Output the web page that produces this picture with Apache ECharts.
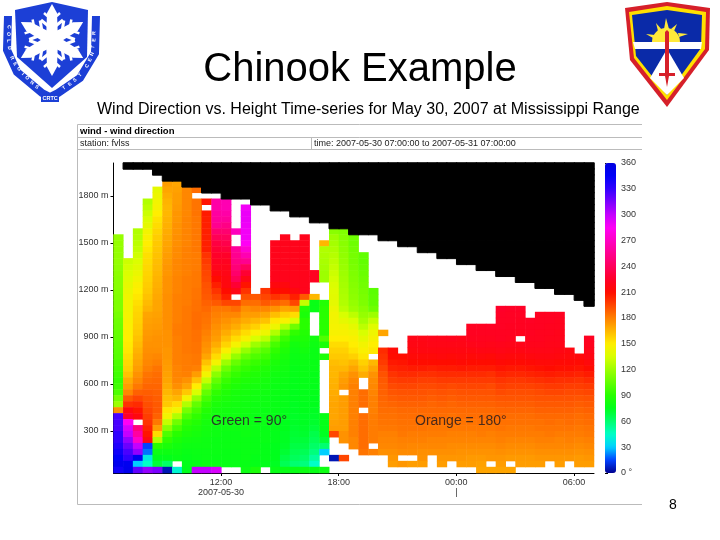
<!DOCTYPE html>
<html>
<head>
<meta charset="utf-8">
<title>Chinook Example</title>
<script src="https://cdn.jsdelivr.net/npm/echarts@6/dist/echarts.min.js"></script>
<style>
  html, body { margin: 0; padding: 0; background: #fff; }
  #chart { width: 720px; height: 540px; }
</style>
</head>
<body>
<div id="chart"></div>
<script>
const _ = null; // white, no data

const heightTicks = [300, 600, 900, 1200, 1500, 1800];
const hourTicks = [12, 18, 24, 30];
const hourLabels = ['12:00\n2007-05-30', '18:00', '00:00\n|', '06:00'];

// rows of the black area at the top of each column (above the range limit)
const blackRows = [0, 1, 1, 1, 2, 3, 3, 4, 4, 5, 5, 6, 6, 6, 7, 7, 8, 8, 9, 9, 10, 10, 11, 11, 12,
  12, 12, 13, 13, 14, 14, 15, 15, 16, 16, 17, 17, 18, 18, 19, 19, 20, 20, 21, 21, 22, 22, 23, 24];

// first row (0 = top) that each column of directions starts at
const firstRows = [12, 16, 11, 6, 4, 3, 3, 4, 4, 6, 6, 6, 11, 7, 22, 21, 13, 12, 13, 12, 18, 13, 11, 11, 12,
  15, 21, 28, 31, 32, 29, 29, 29, 29, 29, 29, 27, 27, 27, 24, 24, 24, 26, 25, 25, 25, 31, 32, 29];

// wind direction in degrees read per half-hour column, top to bottom
const directions = [
  [118,118,118,118,118,117,116,115,115,114,113,112,112,110,108,107,106,105,104,103,102,100,98,96,94,96,100,110,120,175,325,325,325,330,330,335,340,345,350,340],
  [132,134,136,138,140,142,144,145,145,146,147,148,149,150,151,152,154,156,158,162,168,172,178,190,200,215,225,285,295,300,310,318,325,330,350,352],
  [125,126,128,130,133,136,139,142,145,148,150,152,154,156,157,158,159,160,162,164,166,168,170,172,175,178,182,188,195,202,208,215,_,250,260,272,300,310,350,30,320],
  [125,128,132,136,140,145,148,150,152,154,155,156,157,158,159,160,162,164,166,170,171,172,173,174,175,176,177,178,180,183,185,187,189,191,193,195,197,200,204,208,216,15,20,38,45,310],
  [140,143,145,147,150,153,155,157,159,160,161,162,163,164,165,166,167,168,169,170,170,171,172,173,174,175,175,176,178,180,183,185,186,187,188,189,190,190,188,182,172,155,125,90,80,75,70,315],
  [172,170,168,166,165,165,166,167,168,169,170,171,172,173,174,174,175,175,175,176,176,176,176,176,176,175,175,175,174,174,173,172,171,170,168,165,162,160,152,145,130,115,100,92,85,80,76,62,5],
  [170,171,172,172,173,174,174,175,175,176,176,177,177,178,178,178,179,179,179,180,180,180,180,180,181,181,180,180,180,180,180,179,179,178,176,170,165,155,145,125,108,98,90,85,82,80,78,_,42],
  [178,178,178,178,178,179,179,179,179,179,180,180,180,180,180,181,181,181,181,181,182,182,182,182,182,182,182,182,181,181,181,180,175,170,160,145,125,110,100,92,88,85,82,80,78,77,76,75],
  [185,_,183,183,183,182,182,182,182,182,182,181,181,181,182,182,182,183,183,184,184,185,185,185,184,184,183,183,182,182,180,172,162,150,135,118,105,98,92,88,85,83,81,80,79,78,77,300],
  [208,_,206,205,205,205,205,205,205,200,198,196,195,194,192,191,190,188,186,184,183,182,180,178,176,174,170,162,155,145,130,115,105,98,92,88,85,83,82,81,80,80,79,79,79,300],
  [262,262,260,258,255,245,238,232,228,225,222,220,215,210,205,200,195,190,182,180,178,176,174,172,168,162,155,145,128,115,105,98,92,88,85,83,82,81,80,80,79,79,79,78,78,295],
  [265,265,262,258,252,246,240,235,230,225,222,220,218,216,215,210,205,195,182,178,175,172,168,163,157,148,135,120,108,100,94,90,87,85,83,82,81,80,80,79,79,79,78,78,78,_],
  [268,_,_,258,255,252,248,244,238,228,218,_,195,185,178,172,168,162,155,146,132,118,106,98,93,89,86,84,83,82,81,81,80,80,79,79,79,78,78,78,_],
  [288,290,290,289,288,288,285,275,265,255,240,228,218,208,200,192,185,176,172,168,162,155,147,133,118,106,98,93,89,86,84,83,82,81,81,80,80,80,80,79,79,79,79,78,80],
  [190,185,178,172,165,158,148,135,120,108,100,94,90,87,85,83,82,81,80,80,79,79,79,79,78,78,78,77,77,85],
  [200,195,190,178,170,162,152,143,128,112,102,96,91,87,85,83,82,81,80,80,79,79,79,78,78,78,77,77,77,76,_],
  [220,220,220,220,220,220,220,215,210,200,188,175,163,152,143,125,108,98,92,88,85,83,81,80,79,79,78,78,78,77,77,77,76,76,75,75,75,74,78],
  [220,220,220,220,220,220,220,220,215,210,197,185,170,158,147,125,105,95,90,86,84,82,81,80,79,78,78,77,77,76,76,75,75,74,74,73,71,68,65,78],
  [220,220,220,220,220,220,220,220,215,205,195,172,155,135,108,92,86,82,80,79,78,77,77,76,76,75,75,74,74,73,73,72,71,70,68,66,64,60,78],
  [220,220,220,220,220,220,220,220,220,220,190,130,88,85,90,90,88,86,84,82,80,79,78,78,77,77,76,76,75,75,74,74,73,72,70,68,65,62,58,80],
  [222,222,_,_,165,78,78,_,_,_,_,82,80,79,79,78,78,77,77,76,76,75,75,74,73,72,70,67,65,62,58,52,45,78],
  [165,125,124,123,122,120,120,_,_,_,88,90,90,90,90,90,100,85,_,85,_,_,_,_,_,_,_,_,_,78,77,76,74,70,60,30,_,_,80],
  [115,120,122,124,126,128,130,132,134,136,138,139,140,143,145,145,146,147,150,155,158,160,163,165,165,166,167,168,169,170,170,170,171,172,195,_,_,_,5,_,_],
  [113,114,115,116,117,118,119,120,121,122,123,124,125,128,135,140,145,147,150,155,158,160,162,165,170,172,174,_,172,172,172,172,172,172,175,175,_,_,195,_,_],
  [108,108,109,110,110,111,112,113,114,115,116,118,120,128,135,140,145,148,150,153,158,165,170,175,178,180,180,180,180,180,180,180,180,180,178,178,_,_,_,_],
  [105,105,106,107,108,109,110,111,112,115,118,122,128,135,140,145,148,152,158,162,168,_,_,185,185,185,_,185,185,185,185,185,185,183,_,_,_],
  [103,104,105,108,120,130,138,144,147,150,152,_,165,170,175,177,178,179,180,180,180,181,181,181,181,181,_,180,_,_,_],
  [170,_,_,202,200,198,195,192,190,189,188,187,186,185,184,183,182,180,179,178,176,_,_,_],
  [212,210,207,204,200,197,194,191,189,187,185,184,183,182,180,179,178,176,174,172,_],
  [210,208,205,202,198,195,192,190,188,186,185,184,183,182,180,179,177,_,174,_],
  [218,217,215,213,210,206,202,198,195,192,190,188,186,185,184,183,181,180,178,177,_,172,_],
  [218,217,216,213,210,206,201,197,194,192,190,188,186,185,184,183,181,180,178,176,175,172,_],
  [219,218,216,213,210,205,201,197,194,191,189,187,186,185,184,182,181,179,178,176,_,_,_],
  [219,218,216,214,210,206,202,198,195,192,190,188,186,185,183,182,181,179,178,176,174,172,_],
  [220,218,216,213,210,206,202,198,194,191,189,187,186,184,183,182,180,179,177,176,174,_,_],
  [219,218,216,214,211,207,202,198,195,192,190,188,186,185,183,182,180,179,177,175,174,172,_],
  [222,222,221,219,216,213,210,206,202,198,195,192,190,188,186,185,183,182,180,179,177,175,173,172,_],
  [222,222,221,220,217,214,210,206,202,198,195,192,190,188,186,185,184,182,181,179,177,175,173,171,170],
  [223,222,221,219,217,213,210,206,201,198,194,192,190,188,186,185,183,182,180,179,177,175,174,_,170],
  [225,224,223,223,222,222,220,218,215,212,208,204,200,197,194,191,189,187,186,184,183,181,180,178,176,174,172,170],
  [224,223,223,222,222,221,219,217,214,211,207,203,199,196,193,191,189,187,185,184,182,181,179,177,175,173,_,170],
  [224,223,222,222,221,_,219,217,214,211,207,203,199,196,193,191,189,187,185,184,182,181,179,177,175,173,172,_],
  [223,222,222,221,220,218,215,212,208,204,200,196,193,191,189,187,185,184,182,181,179,177,175,173,172,_],
  [222,222,222,221,221,220,218,216,213,209,205,201,197,194,192,190,188,186,184,183,181,180,178,176,174,172,_],
  [222,222,221,221,220,219,218,216,213,210,206,202,198,195,192,190,188,186,185,183,182,180,178,176,174,_,_],
  [222,221,221,220,220,219,217,215,212,209,205,201,198,195,192,190,188,186,184,183,181,179,178,176,174,172,_],
  [216,214,212,209,205,201,197,194,192,190,188,186,185,183,181,180,178,176,174,_,_],
  [214,211,208,204,200,197,194,191,189,187,185,184,182,181,179,177,175,173,172,_],
  [222,221,219,217,214,210,206,202,198,195,192,190,188,186,185,183,182,180,178,176,174,172,_]
];

const ROWS = 52;
const labelColor = '#333';
const sans = '"Liberation Sans", Arial, sans-serif';

// colour bar, every 15 degrees from 0 to 360
const barColors = ['#000090', '#0042ff', '#00cfff', '#00ffc7', '#00ff70', '#00ff1c', '#27ff00', '#62ff00', '#9dff00',
  '#d8ff00', '#ffee00', '#ffb700', '#ff8000', '#ff4600', '#ff0c00', '#ff0029', '#ff005c', '#ff008f', '#ff00c3',
  '#ff00f5', '#c400ff', '#7a00ff', '#3000ff', '#0000f8', '#0000e0'];

const cellData = [];
directions.forEach((col, x) => {
  col.forEach((v, i) => {
    if (v !== _) cellData.push([x, firstRows[x] + i, v]);
  });
});

const blackData = [];
blackRows.forEach((n, x) => {
  for (let y = 0; y < n; y++) blackData.push([x, y, 1]);
});

const colNames = directions.map((c, i) => String(i));
const rowNames = [];
for (let i = 0; i < ROWS; i++) rowNames.push(String(i));

// --- slide decoration ---
function text(x, y, str, style) {
  return { type: 'text', z: 100, x: x, y: y, style: Object.assign({ text: str, fill: '#000', font: '9px ' + sans }, style) };
}
function poly(points, fill, z) {
  return { type: 'polygon', z: z || 100, shape: { points: points }, style: { fill: fill } };
}
function line(x1, y1, x2, y2, color, width) {
  return { type: 'line', z: 100, shape: { x1: x1, y1: y1, x2: x2, y2: y2 }, style: { stroke: color, lineWidth: width || 1 } };
}

const panel = [
  line(77.5, 124.5, 642, 124.5, '#bbb'),
  line(77.5, 137.5, 642, 137.5, '#bbb'),
  line(77.5, 149.5, 642, 149.5, '#bbb'),
  line(77.5, 504.5, 642, 504.5, '#bbb'),
  line(77.5, 124.5, 77.5, 504.5, '#bbb'),
  line(311.5, 137.5, 311.5, 149.5, '#bbb'),
  text(80, 126.5, 'wind - wind direction', { font: 'bold 9.5px ' + sans }),
  text(80, 139, 'station: fvlss', { font: '9px ' + sans, fill: '#222' }),
  text(314, 139, 'time: 2007-05-30 07:00:00 to 2007-05-31 07:00:00', { font: '9px ' + sans, fill: '#222' })
];

// cold regions shield, left
const snowBlue = '#1c3fd6';
const snowArms = [];
for (let k = 0; k < 6; k++) {
  const a = k * Math.PI / 3;
  snowArms.push({
    type: 'group', z: 101, x: 52, y: 40, rotation: a,
    children: [
      { type: 'polygon', z: 101, shape: { points: [[-6, 0], [-5, -27], [0, -36], [5, -27], [6, 0]] }, style: { fill: '#fff' } },
      { type: 'line', z: 101, shape: { x1: 0, y1: -11, x2: -11, y2: -20 }, style: { stroke: '#fff', lineWidth: 3 } },
      { type: 'line', z: 101, shape: { x1: 0, y1: -11, x2: 11, y2: -20 }, style: { stroke: '#fff', lineWidth: 3 } },
      { type: 'line', z: 101, shape: { x1: 0, y1: -20, x2: -8, y2: -27 }, style: { stroke: '#fff', lineWidth: 2.5 } },
      { type: 'line', z: 101, shape: { x1: 0, y1: -20, x2: 8, y2: -27 }, style: { stroke: '#fff', lineWidth: 2.5 } }
    ]
  });
}
const ringLetters = [
  ['C', 9, 27, -1.5], ['O', 8.5, 34, -1.5], ['L', 8.5, 41, -1.5], ['D', 9.5, 48, -1.4],
  ['R', 12, 58, -1.1], ['E', 15, 64, -1], ['G', 19, 69, -.9], ['I', 23, 74, -.8], ['O', 27, 78, -.7], ['N', 32, 83, -.6], ['S', 37, 87, -.6],
  ['T', 64, 88, .6], ['E', 70, 84, .7], ['S', 75, 80, .7], ['T', 80, 75, .8],
  ['C', 87, 66, 1], ['E', 90, 60, 1.1], ['N', 92, 54, 1.2], ['T', 93, 47, 1.4], ['E', 94, 40, 1.5], ['R', 94, 33, 1.5]
].map(l => ({
  type: 'text', z: 102, x: l[1], y: l[2], rotation: l[3],
  style: { text: l[0], fill: '#fff', font: 'bold 5px ' + sans, align: 'center', verticalAlign: 'middle' }
}));
const coldLogo = [
  { type: 'polyline', z: 100, shape: { points: [[8, 16], [7, 50], [17, 72], [42, 93], [50, 97], [58, 93], [80, 78], [95, 53], [96, 16]] },
    style: { stroke: snowBlue, lineWidth: 8, fill: null } },
  poly([[15, 10], [52, 2], [88, 10], [87, 57], [52, 88], [17, 57]], snowBlue, 101)
].concat(snowArms, ringLetters, [
  { type: 'rect', z: 102, shape: { x: 41, y: 94, width: 18, height: 8 }, style: { fill: snowBlue } },
  Object.assign(text(42.5, 95.5, 'CRTC', { fill: '#fff', font: 'bold 5.5px ' + sans }), { z: 103 })
]);

// test center shield, right
const testLogo = [
  poly([[625, 8], [667, 2], [710, 8], [709, 50], [667, 107], [630, 60]], '#d6202a'),
  poly([[629, 12], [667, 6], [706, 12], [705, 49], [667, 100], [634, 58]], '#ffe000'),
  poly([[632, 15], [667, 10], [702, 15], [701, 48], [667, 95], [636, 56]], '#0a2aa8'),
  { type: 'sector', z: 100, shape: { cx: 666, cy: 42, r: 14, startAngle: Math.PI, endAngle: 2 * Math.PI }, style: { fill: '#ffe93a' } },
  poly([[646, 34], [655, 35], [653, 38]], '#ffe93a'),
  poly([[656, 23], [662, 30], [658, 31]], '#ffe93a'),
  poly([[666, 18], [669, 29], [664, 29]], '#ffe93a'),
  poly([[677, 24], [674, 31], [671, 29]], '#ffe93a'),
  poly([[688, 34], [679, 37], [678, 33]], '#ffe93a'),
  poly([[633, 42], [702, 42], [701, 49], [635, 49]], '#fff'),
  poly([[667, 49], [684, 78], [667, 95], [650, 78]], '#fff'),
  poly([[665, 32], [667, 30], [669, 32], [669, 76], [667, 87], [665, 76]], '#d6202a'),
  { type: 'rect', z: 100, shape: { x: 659, y: 73, width: 16, height: 3 }, style: { fill: '#d6202a' } }
];

const graphics = panel.concat(coldLogo, testLogo, [
  text(360, 50, 'Chinook Example', { font: '40px ' + sans, align: 'center' }),
  text(97, 102, 'Wind Direction vs. Height Time-series for May 30, 2007 at Mississippi Range', { font: '16px ' + sans }),
  text(211, 414, 'Green = 90°', { font: '14px ' + sans, fill: '#2b3a2b' }),
  text(415, 414, 'Orange = 180°', { font: '14px ' + sans, fill: '#4a2a1a' }),
  text(669, 498, '8', { font: '14px ' + sans })
]);

const chart = echarts.init(document.getElementById('chart'));
chart.setOption({
  animation: false,
  backgroundColor: '#fff',
  grid: [
    { left: 113.5, top: 163, width: 480.5, height: 310 },
    { left: 605, top: 163, width: 11, height: 310 }
  ],
  xAxis: [
    { type: 'category', gridIndex: 0, data: colNames, show: false },
    {
      type: 'value', gridIndex: 0, min: 6.52, max: 31.02, position: 'bottom',
      splitLine: { show: false },
      axisLine: { show: true, lineStyle: { color: '#000' } },
      axisTick: { show: true, length: 3, customValues: hourTicks, lineStyle: { color: '#000' } },
      axisLabel: {
        customValues: hourTicks, color: labelColor, fontSize: 9, fontFamily: sans, margin: 5, lineHeight: 10,
        formatter: v => hourLabels[hourTicks.indexOf(v)]
      }
    },
    { type: 'value', gridIndex: 1, show: false, min: 0, max: 1 }
  ],
  yAxis: [
    { type: 'category', gridIndex: 0, data: rowNames, inverse: true, show: false },
    {
      type: 'value', gridIndex: 0, min: 32, max: 2010.6, position: 'left',
      splitLine: { show: false },
      axisLine: { show: true, lineStyle: { color: '#000' } },
      axisTick: { show: true, length: 3, customValues: heightTicks, lineStyle: { color: '#000' } },
      axisLabel: {
        customValues: heightTicks, color: labelColor, fontSize: 9, fontFamily: sans, margin: 5,
        formatter: v => v + ' m'
      }
    },
    {
      type: 'value', gridIndex: 1, min: 0, max: 360, interval: 30, position: 'right',
      splitLine: { show: false },
      axisLine: { show: false },
      axisTick: { show: true, length: 3, lineStyle: { color: '#000' } },
      axisLabel: {
        color: labelColor, fontSize: 9, fontFamily: sans, margin: 5,
        formatter: v => (v === 0 ? '0 °' : String(v))
      }
    }
  ],
  visualMap: {
    type: 'continuous', seriesIndex: 0, min: 0, max: 360,
    left: 605, top: 163, itemWidth: 11, itemHeight: 310, padding: 0,
    calculable: false, hoverLink: false, text: null, showLabel: false,
    inRange: { color: barColors }
  },
  series: [
    {
      type: 'heatmap', xAxisIndex: 0, yAxisIndex: 0, data: cellData, progressive: 0,
      itemStyle: { borderWidth: 0 }, emphasis: { disabled: true }
    },
    {
      type: 'heatmap', xAxisIndex: 0, yAxisIndex: 0, data: blackData, progressive: 0,
      itemStyle: { color: '#000', borderColor: '#000', borderWidth: 1 }, emphasis: { disabled: true }
    }
  ],
  graphic: { elements: graphics }
});
</script>
</body>
</html>
